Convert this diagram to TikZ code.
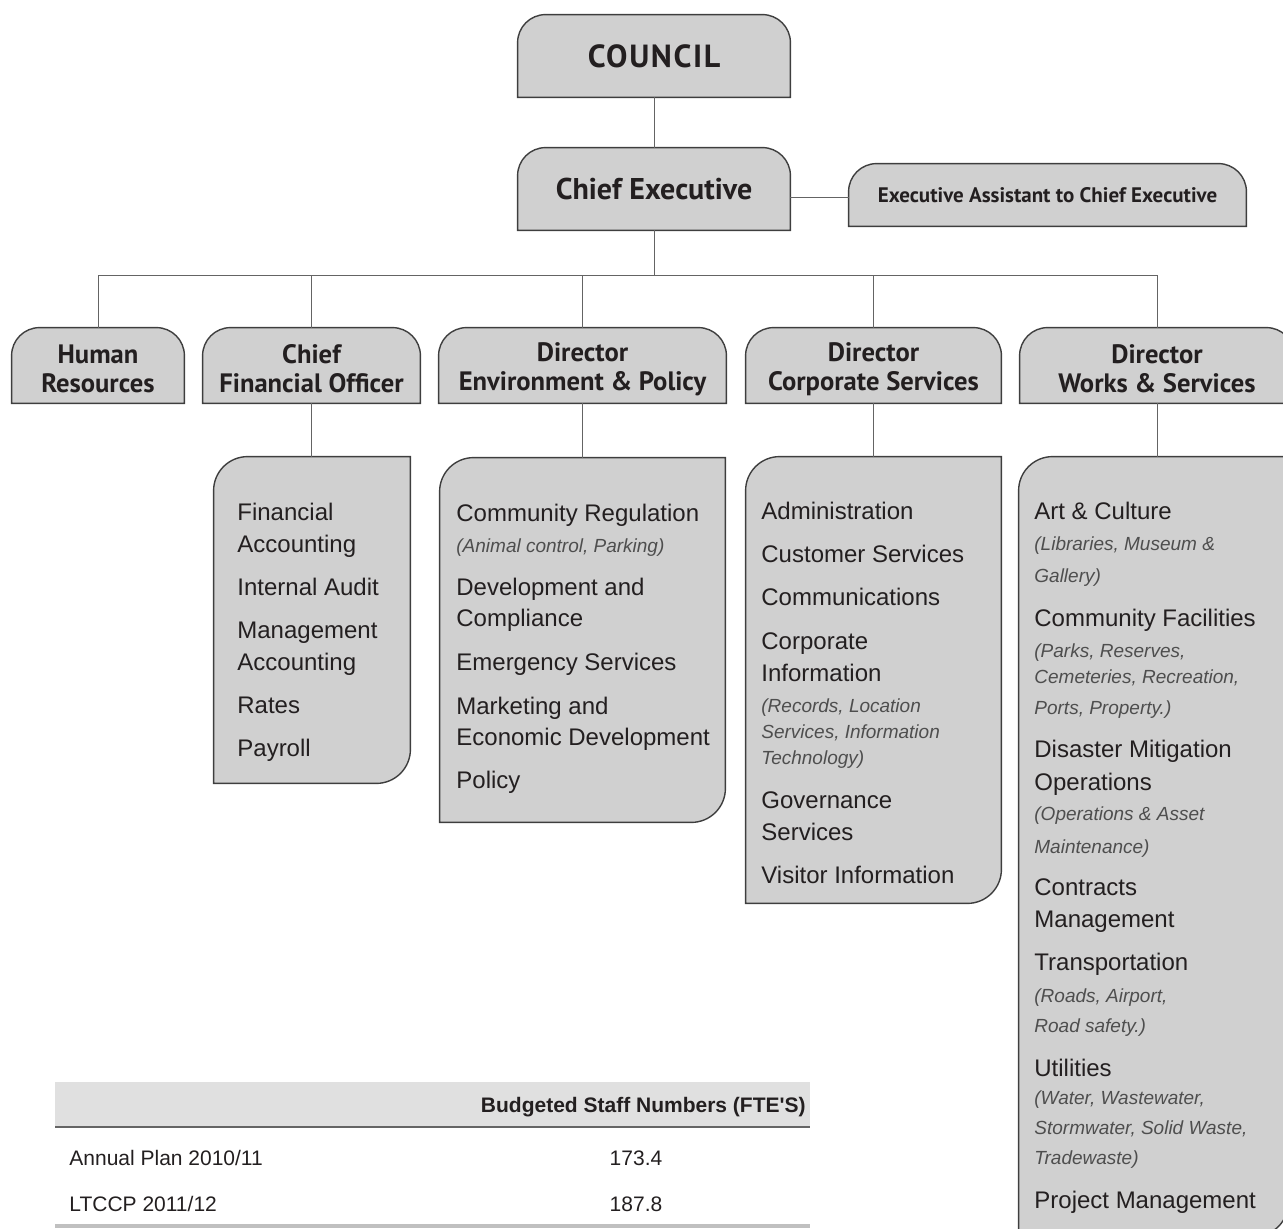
\documentclass[tikz,border=0pt]{standalone}
\usepackage{fontspec}
\setmainfont{Liberation Sans}
\newfontfamily\headfont{PT Sans}
\usetikzlibrary{positioning,backgrounds}
\definecolor{boxGray}{RGB}{208,208,208}
\definecolor{edgeGray}{RGB}{62,62,62}
\definecolor{linkGray}{RGB}{100,100,100}
\definecolor{inkBlack}{RGB}{35,31,32}
\definecolor{noteGray}{RGB}{78,78,78}
\definecolor{bandGray}{RGB}{224,224,224}
\definecolor{ruleGray}{RGB}{192,192,192}
\tikzset{
  head/.style={inner sep=0pt, align=center, text=inkBlack, text height=27.5pt,
               font=\headfont\bfseries\fontsize{13.3}{14.5}\selectfont},
  bighead/.style={head, text height=, font=\headfont\bfseries\fontsize{15}{18}\selectfont},
  smallhead/.style={head, text height=, font=\headfont\bfseries\fontsize{10.5}{12}\selectfont},
  listbox/.style={inner sep=0pt},
  item/.style={anchor=base west, inner sep=0pt, text=inkBlack, font=\fontsize{12}{14}\selectfont},
  note/.style={anchor=base west, inner sep=0pt, text=noteGray, font=\itshape\fontsize{9.5}{11}\selectfont},
  cell/.style={anchor=base west, inner sep=0pt, text=inkBlack, font=\fontsize{10.5}{12}\selectfont},
  link/.style={draw=linkGray, line width=0.5pt},
  outline/.style={fill=boxGray, draw=edgeGray, line width=0.7pt}
}

\begin{document}
\begin{tikzpicture}[x=0.5pt, y=-0.5pt]
\path[use as bounding box] (0,0) rectangle (1283,1229);

% Top of the chart
\node[bighead, minimum width=136pt, minimum height=41pt, font=\headfont\bfseries\fontsize{16}{18}\selectfont\addfontfeatures{LetterSpace=5}] (council) at (654,56) {COUNCIL};
\node[bighead, minimum width=136pt, minimum height=41pt] (ceo) at (654,189) {Chief Executive};
\node[smallhead, minimum width=198.5pt, minimum height=31pt] (ea) at (1047.5,195) {Executive Assistant to Chief Executive};
\coordinate (bus) at (654,276);

% Second row
\node[head, minimum width=86pt, minimum height=37.5pt] (hr) at (98,365.5) {Human\\Resources};
\node[head, minimum width=108.5pt, minimum height=37.5pt] (cfo) at (311.5,365.5) {Chief\\Financial Officer};
\node[head, minimum width=143.5pt, minimum height=37.5pt] (dep) at (582.5,365.5) {Director\\Environment \& Policy};
\node[head, minimum width=127.5pt, minimum height=37.5pt] (dcs) at (873.5,365.5) {Director\\Corporate Services};
\node[head, minimum width=137pt, minimum height=37.5pt] (dws) at (1157,365.5) {Director\\Works \& Services};

% Activity boxes
\node[listbox, minimum width=98pt, minimum height=163pt] (cfolist) at (312,620) {};
\node[listbox, minimum width=142.5pt, minimum height=182pt] (deplist) at (582.5,640) {};
\node[listbox, minimum width=127.5pt, minimum height=223pt] (dcslist) at (873.5,680) {};
\node[listbox, minimum width=134.5pt, minimum height=389.5pt] (dwslist) at (1153.5,846.5) {};

\begin{scope}[on background layer]
\foreach \n in {council,ceo,ea,hr,cfo,dep,dcs,dws}
  \draw[outline] (\n.south west) -- ([yshift=-14pt]\n.north west)
    arc[start angle=180, end angle=90, radius=14pt] -- ([xshift=-14pt]\n.north east)
    arc[start angle=90, end angle=0, radius=14pt] -- (\n.south east) -- cycle;
\foreach \n in {cfolist,deplist,dcslist,dwslist}
  \draw[outline] (\n.south west) -- ([yshift=-17pt]\n.north west)
    arc[start angle=180, end angle=90, radius=17pt] -- (\n.north east) -- ([yshift=17pt]\n.south east)
    arc[start angle=0, end angle=-90, radius=17pt] -- cycle;
\end{scope}

\draw[link] (council) -- (ceo);
\draw[link] ([yshift=-1.5pt]ea.west -| ceo.east) -- ([yshift=-1.5pt]ea.west);
\draw[link] (ceo.south) -- (bus);
\draw[link] (hr.north) |- (bus);
\draw[link] (cfo.north) |- (bus);
\draw[link] (dep.north) |- (bus);
\draw[link] (dcs.north) |- (bus);
\draw[link] (dws.north) |- (bus);
\draw[link] (cfo.south) -- (cfo.south |- cfolist.north);
\draw[link] (dep.south) -- (dep.south |- deplist.north);
\draw[link] (dcs.south) -- (dcs.south |- dcslist.north);
\draw[link] (dws.south) -- (dws.south |- dwslist.north);

% Finance
\node[item] (fin1) at (237,520) {Financial};
\node[item] (fin2) at (237,552) {Accounting};
\node[item] (fin3) at (237,595) {Internal Audit};
\node[item] (fin4) at (237,638) {Management};
\node[item] (fin5) at (237,670) {Accounting};
\node[item] (fin6) at (237,713) {Rates};
\node[item] (fin7) at (237,756) {Payroll};

% Environment & Policy
\node[item] (env1) at (456,521) {Community Regulation};
\node[note] (env2) at (456,552) {(Animal control, Parking)};
\node[item] (env3) at (456,595) {Development and};
\node[item] (env4) at (456,626) {Compliance};
\node[item] (env5) at (456,670) {Emergency Services};
\node[item] (env6) at (456,714) {Marketing and};
\node[item] (env7) at (456,745) {Economic Development};
\node[item] (env8) at (456,788) {Policy};

% Corporate Services
\node[item] (corp1) at (761,519) {Administration};
\node[item] (corp2) at (761,562) {Customer Services};
\node[item] (corp3) at (761,605) {Communications};
\node[item] (corp4) at (761,649) {Corporate};
\node[item] (corp5) at (761,681) {Information};
\node[note] (corp6) at (761,712) {(Records, Location};
\node[note] (corp7) at (761,738) {Services, Information};
\node[note] (corp8) at (761,764) {Technology)};
\node[item] (corp9) at (761,808) {Governance};
\node[item] (corp10) at (761,840) {Services};
\node[item] (corp11) at (761,883) {Visitor Information};

% Works & Services
\node[item] (work1) at (1034,519) {Art \& Culture};
\node[note] (work2) at (1034,550) {(Libraries, Museum \&};
\node[note] (work3) at (1034,582) {Gallery)};
\node[item] (work4) at (1034,626) {Community Facilities};
\node[note] (work5) at (1034,657) {(Parks, Reserves,};
\node[note] (work6) at (1034,683) {Cemeteries, Recreation,};
\node[note] (work7) at (1034,714) {Ports, Property.)};
\node[item] (work8) at (1034,757) {Disaster Mitigation};
\node[item] (work9) at (1034,790) {Operations};
\node[note] (work10) at (1034,820) {(Operations \& Asset};
\node[note] (work11) at (1034,853) {Maintenance)};
\node[item] (work12) at (1034,895) {Contracts};
\node[item] (work13) at (1034,927) {Management};
\node[item] (work14) at (1034,970) {Transportation};
\node[note] (work15) at (1034,1002) {(Roads, Airport,};
\node[note] (work16) at (1034,1032) {Road safety.)};
\node[item] (work17) at (1034,1076) {Utilities};
\node[note] (work18) at (1034,1104) {(Water, Wastewater,};
\node[note] (work19) at (1034,1134) {Stormwater, Solid Waste,};
\node[note] (work20) at (1034,1164) {Tradewaste)};
\node[item] (work21) at (1034,1208) {Project Management};

% Staff table
\fill[bandGray] (55,1082) rectangle (810,1127);
\draw[draw=edgeGray!80, line width=0.8pt] (55,1127) -- (810,1127);
\draw[draw=ruleGray, line width=1.6pt] (55,1226) -- (810,1226);
\node[cell, anchor=base east, font=\bfseries\fontsize{10.5}{12}\selectfont\addfontfeatures{Ligatures=TeXOff}] (colhead) at (806,1112) {Budgeted Staff Numbers (FTE'S)};
\node[cell] (row1) at (69,1165) {Annual Plan 2010/11};
\node[cell, anchor=base] (val1) at (636,1165) {173.4};
\node[cell] (row2) at (69,1211) {LTCCP 2011/12};
\node[cell, anchor=base] (val2) at (636,1211) {187.8};
\end{tikzpicture}
\end{document}
